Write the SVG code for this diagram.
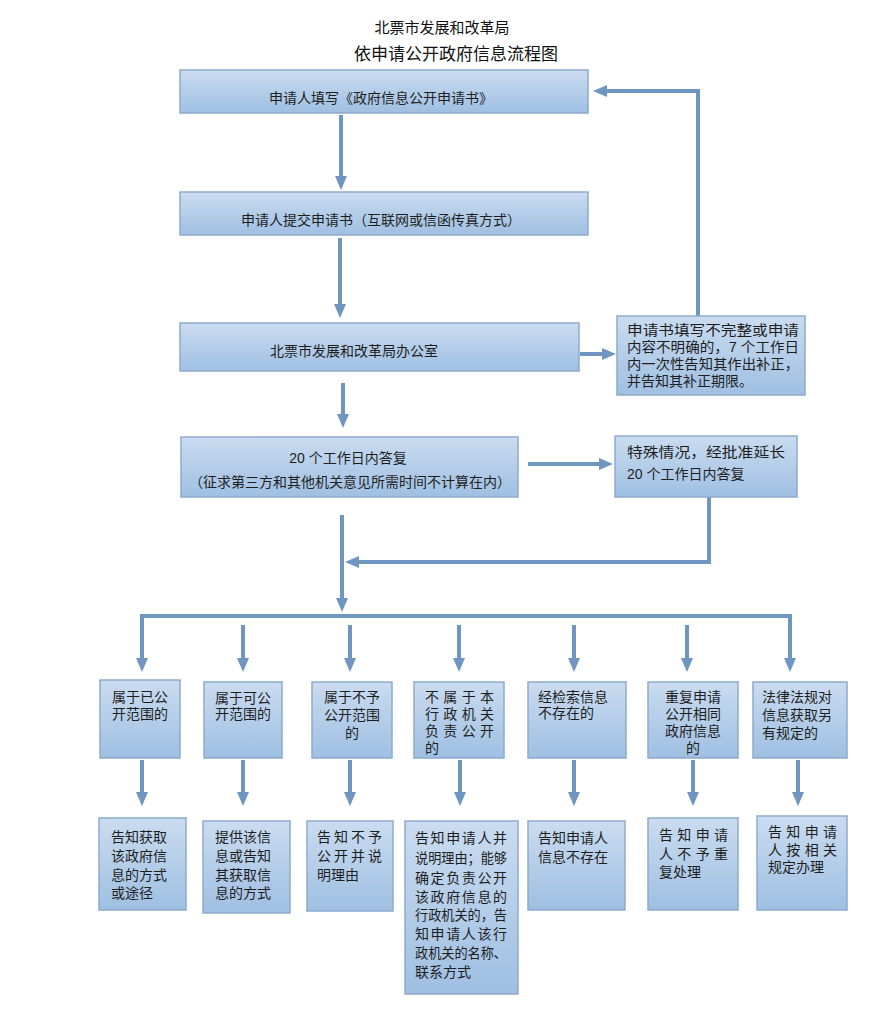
<svg xmlns="http://www.w3.org/2000/svg" width="882" height="1024" viewBox="0 0 882 1024">
<defs>
<linearGradient id="g" x1="0" y1="0" x2="0" y2="1">
<stop offset="0" stop-color="#cadcf0"/>
<stop offset="1" stop-color="#9fbfe2"/>
</linearGradient>
<marker id="ah" markerUnits="userSpaceOnUse" markerWidth="14" markerHeight="14" viewBox="0 0 14 14" refX="6" refY="7" orient="auto">
<path d="M0,1 L14,7 L0,13 z" fill="#6f95c1"/>
</marker>
<style>
.box{fill:url(#g);stroke:#8eaacb;stroke-width:1.5}
.t{font-family:"Liberation Sans","Noto Sans CJK SC",sans-serif;font-size:14px;fill:#1e1e1e}
.c{text-anchor:middle}
.ttl{font-family:"Noto Sans CJK SC","Liberation Sans",sans-serif;fill:#111}
.la{fill:none;stroke:#6f95c1;stroke-width:4;marker-end:url(#ah)}
</style>
</defs>
<rect width="882" height="1024" fill="#ffffff"/>

<g id="title">
<text class="ttl c" x="442" y="33" font-size="15">北票市发展和改革局</text>
<text class="ttl c" x="456" y="60" font-size="17">依申请公开政府信息流程图</text>
</g>

<g id="connectors">
<path class="la" d="M341,115 V182"/>
<path class="la" d="M340,238 V310"/>
<path class="la" d="M580,354 H608"/>
<path class="la" d="M698,316 V91 H601"/>
<path class="la" d="M343,383 V420"/>
<path class="la" d="M528,464 H605"/>
<path class="la" d="M342,515 V604"/>
<path class="la" d="M709,497 V562 H353"/>
<path class="la" d="M466,616 H142 V664"/>
<path class="la" d="M466,616 H790 V664"/>
<path class="la" d="M243,625 V664"/>
<path class="la" d="M350,625 V664"/>
<path class="la" d="M459,625 V664"/>
<path class="la" d="M574,625 V664"/>
<path class="la" d="M687,625 V664"/>
<path class="la" d="M142,760 V798"/>
<path class="la" d="M243,760 V798"/>
<path class="la" d="M350,760 V798"/>
<path class="la" d="M460,760 V798"/>
<path class="la" d="M574,760 V798"/>
<path class="la" d="M693,760 V798"/>
<path class="la" d="M798,760 V798"/>
</g>

<g id="n1"><rect class="box" x="180" y="70" width="408" height="43"/>
<text class="t c" x="381" y="103">申请人填写《政府信息公开申请书》</text></g>
<g id="n2"><rect class="box" x="180" y="192" width="408" height="43"/>
<text class="t c" x="381" y="225">申请人提交申请书（互联网或信函传真方式）</text></g>
<g id="n3"><rect class="box" x="180" y="323" width="399" height="48"/>
<text class="t c" x="354" y="356" font-size="15">北票市发展和改革局办公室</text></g>
<g id="n4"><rect class="box" x="617" y="316" width="188" height="79"/>
<text class="t"><tspan x="627" y="335" textLength="172" lengthAdjust="spacingAndGlyphs">申请书填写不完整或申请</tspan><tspan x="627" y="352" textLength="172" lengthAdjust="spacingAndGlyphs">内容不明确的，7 个工作日</tspan><tspan x="627" y="369" textLength="172" lengthAdjust="spacingAndGlyphs">内一次性告知其作出补正，</tspan><tspan x="627" y="386">并告知其补正期限。</tspan></text></g>
<g id="n5"><rect class="box" x="181" y="437" width="337" height="60"/>
<text class="t c"><tspan x="348" y="463">20 个工作日内答复</tspan><tspan x="350" y="487">（征求第三方和其他机关意见所需时间不计算在内）</tspan></text></g>
<g id="n6"><rect class="box" x="615" y="436" width="182" height="61"/>
<text class="t"><tspan x="627" y="457" textLength="158" lengthAdjust="spacingAndGlyphs">特殊情况，经批准延长</tspan><tspan x="627" y="479">20 个工作日内答复</tspan></text></g>

<g id="c1"><rect class="box" x="100" y="680" width="80" height="78"/>
<text class="t c"><tspan x="140" y="702">属于已公</tspan><tspan x="140" y="719">开范围的</tspan></text></g>
<g id="c2"><rect class="box" x="204" y="682" width="78" height="76"/>
<text class="t c"><tspan x="243" y="703">属于可公</tspan><tspan x="243" y="719">开范围的</tspan></text></g>
<g id="c3"><rect class="box" x="312" y="682" width="80" height="76"/>
<text class="t c"><tspan x="352" y="702">属于不予</tspan><tspan x="352" y="720">公开范围</tspan><tspan x="352" y="738">的</tspan></text></g>
<g id="c4"><rect class="box" x="414" y="682" width="90" height="76"/>
<text class="t"><tspan x="425" y="702" textLength="69" lengthAdjust="spacing">不属于本</tspan><tspan x="425" y="719" textLength="69" lengthAdjust="spacing">行政机关</tspan><tspan x="425" y="736" textLength="69" lengthAdjust="spacing">负责公开</tspan><tspan x="425" y="753">的</tspan></text></g>
<g id="c5"><rect class="box" x="528" y="682" width="98" height="76"/>
<text class="t"><tspan x="538" y="702">经检索信息</tspan><tspan x="538" y="718">不存在的</tspan></text></g>
<g id="c6"><rect class="box" x="648" y="682" width="90" height="76"/>
<text class="t c"><tspan x="693" y="702">重复申请</tspan><tspan x="693" y="719">公开相同</tspan><tspan x="693" y="736">政府信息</tspan><tspan x="693" y="753">的</tspan></text></g>
<g id="c7"><rect class="box" x="753" y="682" width="94" height="76"/>
<text class="t"><tspan x="762" y="702">法律法规对</tspan><tspan x="762" y="720">信息获取另</tspan><tspan x="762" y="738">有规定的</tspan></text></g>

<g id="r1"><rect class="box" x="99" y="818" width="87" height="92"/>
<text class="t"><tspan x="111" y="842">告知获取</tspan><tspan x="111" y="861">该政府信</tspan><tspan x="111" y="880">息的方式</tspan><tspan x="111" y="898">或途径</tspan></text></g>
<g id="r2"><rect class="box" x="203" y="821" width="87" height="92"/>
<text class="t"><tspan x="215" y="842">提供该信</tspan><tspan x="215" y="861">息或告知</tspan><tspan x="215" y="880">其获取信</tspan><tspan x="215" y="898">息的方式</tspan></text></g>
<g id="r3"><rect class="box" x="307" y="821" width="86" height="90"/>
<text class="t"><tspan x="317" y="842" textLength="65" lengthAdjust="spacing">告知不予</tspan><tspan x="317" y="861" textLength="65" lengthAdjust="spacing">公开并说</tspan><tspan x="317" y="880">明理由</tspan></text></g>
<g id="r4"><rect class="box" x="405" y="821" width="113" height="173"/>
<text class="t"><tspan x="415" y="843" textLength="92" lengthAdjust="spacing">告知申请人并</tspan><tspan x="415" y="863" textLength="92" lengthAdjust="spacingAndGlyphs">说明理由；能够</tspan><tspan x="415" y="883" textLength="92" lengthAdjust="spacing">确定负责公开</tspan><tspan x="415" y="902" textLength="92" lengthAdjust="spacing">该政府信息的</tspan><tspan x="415" y="920" textLength="92" lengthAdjust="spacingAndGlyphs">行政机关的，告</tspan><tspan x="415" y="939" textLength="92" lengthAdjust="spacing">知申请人该行</tspan><tspan x="415" y="958" textLength="92" lengthAdjust="spacingAndGlyphs">政机关的名称、</tspan><tspan x="415" y="977">联系方式</tspan></text></g>
<g id="r5"><rect class="box" x="528" y="821" width="97" height="89"/>
<text class="t"><tspan x="538" y="843">告知申请人</tspan><tspan x="538" y="862">信息不存在</tspan></text></g>
<g id="r6"><rect class="box" x="648" y="818" width="90" height="92"/>
<text class="t"><tspan x="659" y="840" textLength="69" lengthAdjust="spacing">告知申请</tspan><tspan x="659" y="859" textLength="69" lengthAdjust="spacing">人不予重</tspan><tspan x="659" y="877">复处理</tspan></text></g>
<g id="r7"><rect class="box" x="757" y="816" width="90" height="94"/>
<text class="t"><tspan x="768" y="837" textLength="69" lengthAdjust="spacing">告知申请</tspan><tspan x="768" y="855" textLength="69" lengthAdjust="spacing">人按相关</tspan><tspan x="768" y="872">规定办理</tspan></text></g>
</svg>
